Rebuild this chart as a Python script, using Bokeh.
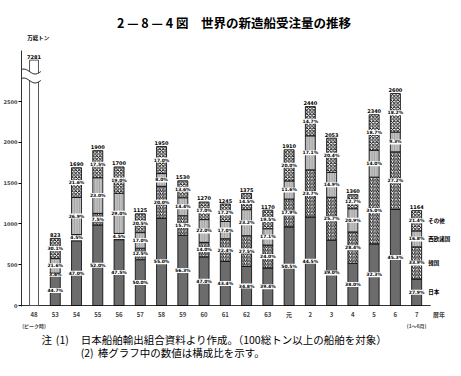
import numpy as np
from bokeh.plotting import figure
from bokeh.layouts import column
from bokeh.models import FixedTicker, ColumnDataSource, Range1d, LinearAxis
from bokeh.embed import file_html
from bokeh.resources import INLINE
from bokeh.core.properties import value

# ---------------- data ----------------
years = ["53", "54", "55", "56", "57", "58", "59", "60", "61", "62", "63",
         "元", "2", "3", "4", "5", "6", "7"]
totals = [823, 1690, 1900, 1700, 1125, 1950, 1530, 1270, 1245, 1375, 1170,
          1910, 2440, 2053, 1360, 2340, 2600, 1164]          # 万総トン
japan = [44.7, 47.0, 52.0, 47.5, 50.0, 55.0, 56.3, 47.0, 43.4, 34.8, 39.4,
         50.5, 44.5, 39.0, 38.0, 32.3, 45.3, 27.9]           # %
korea = [3.6, 4.5, 7.5, 4.5, 12.5, 20.0, 15.7, 14.0, 22.4, 27.5, 24.0,
         17.9, 23.7, 25.7, 28.4, 35.0, 27.2, 33.9]
europe = [21.6, 26.9, 23.0, 29.0, 17.0, 8.0, 14.4, 22.0, 17.0, 23.2, 17.1,
          11.6, 17.1, 14.9, 20.9, 14.0, 9.3, 16.8]
other = [30.1, 21.6, 17.5, 19.0, 20.5, 17.0, 13.6, 17.0, 17.2, 14.5, 19.5,
         20.0, 14.7, 20.4, 12.7, 18.7, 18.2, 21.4]
peak_year = "48"
peak_total = 7281
year_notes = {"48": "(ピーク時)", "7": "(1～6月)"}
segment_names = ["日本", "韓国", "西欧諸国", "その他"]
y_ticks = [0, 500, 1000, 1500, 2000, 2500]

title_no = "2 — 8 — 4 図"
title_text = "世界の新造船受注量の推移"
unit_text = "万総トン"
x_unit_text = "暦年"
note1 = "日本船舶輸出組合資料より作成。（100総トン以上の船舶を対象）"
note2 = "棒グラフ中の数値は構成比を示す。"

# ---------------- styling ----------------
JP = "Noto Sans CJK JP"
W = 461
TOP_H, MAIN_H, BOT_H = 45, 286, 45
PX_PER_UNIT = 0.0828
Y_MIN = -1 / PX_PER_UNIT
Y_MAX = 259 / PX_PER_UNIT
PEAK_CAP = 3010          # drawn height of the broken peak bar
BREAK_LO, BREAK_HI = 2760, 2870
BAR_W = 0.47
X0, X1, X_AXIS_END = -1.589, 19.11, 17.66

styles = [
    dict(fill_color="#6c6c6c", hatch_pattern=None),
    dict(fill_color="white", hatch_pattern="/", hatch_color="black", hatch_scale=3.5, hatch_weight=0.9),
    dict(fill_color="#c0c0c0", hatch_pattern="|", hatch_color="#8a8a8a", hatch_scale=2.5, hatch_weight=0.6),
    dict(fill_color="white", hatch_pattern="x", hatch_color="black", hatch_scale=3.5, hatch_weight=0.9),
]


def blank(h):
    f = figure(width=W, height=h, output_backend="svg", toolbar_location=None,
               x_range=Range1d(0, W), y_range=Range1d(0, h), min_border=0)
    f.axis.visible = False
    f.grid.visible = False
    f.outline_line_color = None
    return f


# ---------------- header ----------------
top = blank(TOP_H)
top.text(x=[100], y=[TOP_H - 22], text=[title_no], text_font=value(JP), text_font_size="12.5px",
         text_font_style="bold", text_align="left", text_baseline="middle")
top.text(x=[188], y=[TOP_H - 22], text=[title_text], text_font=value(JP), text_font_size="12.5px",
         text_font_style="bold", text_align="left", text_baseline="middle")
top.text(x=[6], y=[TOP_H - 37], text=[unit_text], text_font=value(JP), text_font_size="5.5px",
         text_font_style="bold", text_align="left", text_baseline="middle")

# ---------------- main chart ----------------
p = figure(width=W, height=MAIN_H, output_backend="svg", toolbar_location=None,
           x_range=Range1d(X0, X1), y_range=Range1d(Y_MIN, Y_MAX),
           min_border_left=18, min_border_right=0, min_border_top=5, min_border_bottom=21)
p.outline_line_color = None
p.grid.visible = False

xs = np.arange(len(years))
peak_x = -1

p.yaxis.ticker = FixedTicker(ticks=y_ticks)
p.yaxis.major_label_text_font_size = "5px"
p.yaxis.major_label_text_font = "DejaVu Sans"
p.yaxis.major_label_text_font_style = "bold"
p.yaxis.major_tick_out = 3
p.yaxis.major_tick_in = 0
p.yaxis.minor_tick_out = 0
p.yaxis.minor_tick_in = 0
p.yaxis.major_label_standoff = 1
p.yaxis.axis_line_color = "#333333"

p.xaxis.ticker = FixedTicker(ticks=[peak_x] + list(range(len(years))) + [18.05])
p.xaxis.major_label_overrides = {peak_x: peak_year, **{i: y for i, y in enumerate(years)},
                                 18.05: x_unit_text}
p.xaxis.major_label_text_font_size = "6px"
p.xaxis.major_label_text_font = JP
p.xaxis.major_label_text_font_style = "bold"
p.xaxis.major_tick_out = 0
p.xaxis.major_tick_in = 0
p.xaxis.minor_tick_out = 0
p.xaxis.minor_tick_in = 0
p.xaxis.major_label_standoff = 3
p.xaxis.axis_line_color = None

sub = LinearAxis(ticker=FixedTicker(ticks=[peak_x, len(years) - 1]),
                 major_label_overrides={peak_x: year_notes["48"], len(years) - 1: year_notes["7"]},
                 axis_line_color=None, major_tick_out=0, major_tick_in=0,
                 minor_tick_out=0, minor_tick_in=0, major_label_standoff=0,
                 major_label_text_font=JP, major_label_text_font_size="5px",
                 major_label_text_font_style="bold")
p.add_layout(sub, "below")

# baseline
p.line([X0, X_AXIS_END], [0, 0], line_color="#333333", line_width=1.2)

# stacked segments
shares = [japan, korea, europe, other]
bottom = np.zeros(len(years))
mids = []
for share, st in zip(shares, styles):
    h = np.array(totals) * np.array(share) / 100.0
    seg_top = bottom + h
    src = ColumnDataSource(dict(x=xs, bottom=bottom, top=seg_top,
                                mid=(bottom + seg_top) / 2,
                                lab=[f"{v:.1f}%" for v in share]))
    kw = dict(fill_color=st["fill_color"])
    if st["hatch_pattern"]:
        kw.update(hatch_pattern=st["hatch_pattern"], hatch_color=st["hatch_color"],
                  hatch_scale=st["hatch_scale"], hatch_weight=st["hatch_weight"])
    p.vbar(x="x", bottom="bottom", top="top", width=BAR_W, source=src,
           line_color="black", line_width=0.8, **kw)
    p.text(x="x", y="mid", text="lab", source=src, text_font=value("DejaVu Sans"),
           text_font_size="4.5px", text_font_style="bold", text_align="center",
           text_baseline="middle", background_fill_color="white", padding=0)
    mids.append((bottom + seg_top) / 2)
    bottom = seg_top

# totals above bars
tsrc = ColumnDataSource(dict(x=xs, y=np.array(totals, dtype=float), lab=[str(t) for t in totals]))
p.text(x="x", y="y", text="lab", source=tsrc, text_font=value("DejaVu Sans"),
       text_font_size="5px", text_font_style="bold", text_align="center",
       text_baseline="bottom", y_offset=-1.5)

# broken peak bar
peak_h = min(peak_total, PEAK_CAP)
p.vbar(x=[peak_x], bottom=[0], top=[peak_h], width=0.42, fill_color="white",
       line_color="#444444", line_width=0.9)
p.text(x=[peak_x], y=[peak_h], text=[str(peak_total)], text_font=value("DejaVu Sans"),
       text_font_size="5px", text_font_style="bold", text_align="center",
       text_baseline="bottom", y_offset=-1.5)
wx = np.linspace(-1.75, -0.68, 60)
amp = 30
wave = np.sin((wx - wx[0]) / (wx[-1] - wx[0]) * 2 * np.pi)
p.varea(x=wx, y1=BREAK_LO + amp * wave, y2=BREAK_HI + amp * wave, fill_color="white")
p.line(wx, BREAK_LO + amp * wave, line_color="black", line_width=1)
p.line(wx, BREAK_HI + amp * wave, line_color="black", line_width=1)

# legend-like labels beside the last bar
for name, m in zip(segment_names, mids):
    p.text(x=[xs[-1] + 0.55], y=[m[-1]], text=[name], text_font=value(JP),
           text_font_size="5.5px", text_font_style="bold",
           text_baseline="middle", text_align="left")

# ---------------- footer ----------------
bot = blank(BOT_H)
for cx, cy, t in [(21, 8, "注"), (36, 8, "(1)"), (62, 8, note1), (62, 21, "(2)"), (80, 21, note2)]:
    bot.text(x=[cx], y=[BOT_H - cy], text=[t], text_font=value(JP), text_font_size="10.5px",
             text_align="left", text_baseline="middle")

layout = column(top, p, bot, spacing=0)
open("out.html", "w").write(file_html(layout, INLINE))
